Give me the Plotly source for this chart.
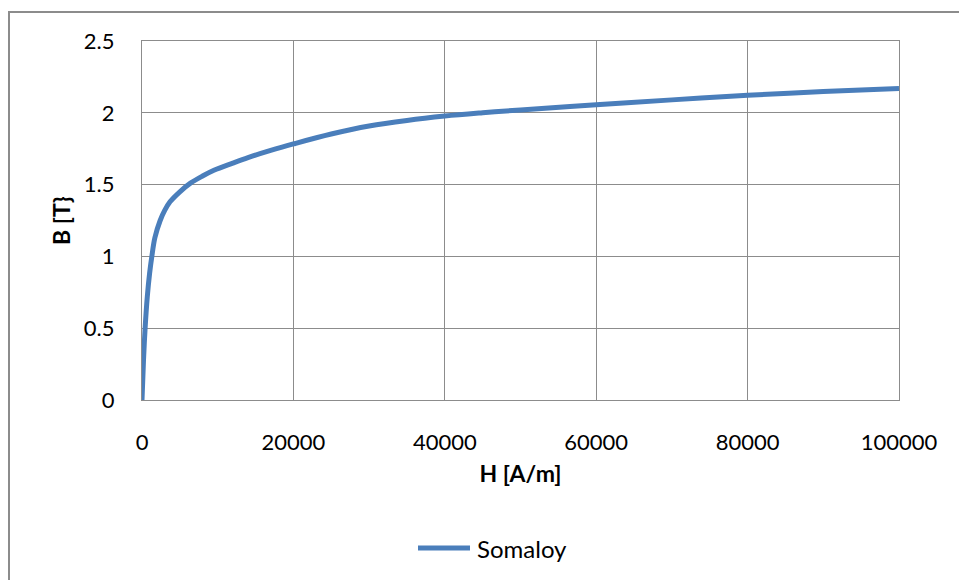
import plotly.graph_objects as go

# Magnetisation curve of Somaloy: field strength H [A/m] vs flux density B [T]
H_values = [0, 200, 400, 700, 1000, 1300, 1700, 2400, 3000, 3700, 5000, 6400,
            8000, 9500, 12000, 14000, 17000, 20000, 25000, 30000, 35000, 40000,
            45000, 50000, 60000, 70000, 80000, 90000, 100000]
B_values = [0, 0.28, 0.49, 0.72, 0.88, 1.0, 1.13, 1.25, 1.32, 1.38, 1.45, 1.51,
            1.56, 1.60, 1.65, 1.688, 1.738, 1.783, 1.852, 1.908, 1.947, 1.977,
            2.0, 2.02, 2.056, 2.09, 2.122, 2.148, 2.17]
series_name = "Somaloy"
x_ticks = [0, 20000, 40000, 60000, 80000, 100000]
y_ticks = [0, 0.5, 1, 1.5, 2, 2.5]

FONT = "Lato, 'Open Sans', sans-serif"
GRID = "#8c8c8c"
LINE = "#4a7ebb"

W, H = 959, 580
L, R, T, B = 142, 60, 41, 180
pw, ph = W - L - R, H - T - B

def px_x(p):
    return (p - L) / pw

def px_y(p):
    return (H - B - p) / ph

fig = go.Figure()
fig.add_trace(go.Scatter(
    x=H_values, y=B_values, mode="lines", name=series_name, showlegend=False,
    line=dict(color=LINE, width=5, shape="spline", smoothing=1.0),
))

fig.update_layout(
    width=W, height=H,
    margin=dict(l=L, r=R, t=T, b=B),
    paper_bgcolor="white", plot_bgcolor="white",
    font=dict(family=FONT, size=22, color="black"),
    xaxis=dict(range=[0, 100000], tickvals=x_ticks, ticktext=[str(v) for v in x_ticks],
               showgrid=True, gridcolor=GRID, gridwidth=1.3,
               showline=True, linecolor=GRID, linewidth=1.3, mirror=True,
               zeroline=False, ticks="", ticklabelstandoff=22,
               tickfont=dict(size=22),
               title=dict(text="<b>H [A/m]</b>", font=dict(size=23), standoff=12)),
    yaxis=dict(range=[0, 2.5], tickvals=y_ticks, ticktext=[str(v) for v in y_ticks],
               showgrid=True, gridcolor=GRID, gridwidth=1.3,
               showline=True, linecolor=GRID, linewidth=1.3, mirror=True,
               zeroline=False, ticks="", ticklabelstandoff=22,
               tickfont=dict(size=22),
               title=dict(text="<b>B [T}</b>", font=dict(size=23), standoff=6)),
    shapes=[
        # chart frame
        dict(type="rect", xref="paper", yref="paper",
             x0=px_x(9), x1=px_x(975), y0=px_y(600), y1=px_y(12),
             line=dict(color=GRID, width=2), layer="below"),
        # legend key
        dict(type="line", xref="paper", yref="paper",
             x0=px_x(418), x1=px_x(470), y0=px_y(548), y1=px_y(548),
             line=dict(color=LINE, width=5)),
    ],
    annotations=[
        dict(text=series_name, xref="paper", yref="paper",
             x=px_x(475), y=px_y(548), xanchor="left", yanchor="middle",
             showarrow=False, font=dict(size=24)),
    ],
)

fig.write_html("out.html")
